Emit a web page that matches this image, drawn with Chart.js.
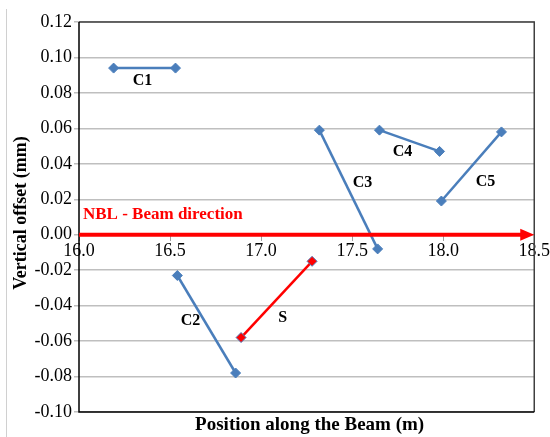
<!DOCTYPE html>
<html>
<head>
<meta charset="utf-8">
<script src="https://cdn.jsdelivr.net/npm/chart.js@4"></script>
<style>
    html, body { margin: 0; padding: 0; background: #fff; }
    #wrap { width: 550px; height: 437px; position: relative; }
</style>
</head>
<body>
<div id="wrap"><canvas id="grafica" width="550" height="437"></canvas></div>
<script>
// data
const c1X = [16.19, 16.53];
const c1Y = [0.094, 0.094];
const c2X = [16.54, 16.86];
const c2Y = [-0.023, -0.078];
const sX = [16.89, 17.28];
const sY = [-0.058, -0.015];
const c3X = [17.32, 17.64];
const c3Y = [0.059, -0.008];
const c4X = [17.65, 17.98];
const c4Y = [0.059, 0.047];
const c5X = [17.99, 18.32];
const c5Y = [0.019, 0.058];

const seriesNames = ['C1', 'C2', 'S', 'C3', 'C4', 'C5'];
const xTicks = [16.0, 16.5, 17.0, 17.5, 18.0, 18.5];
const yTicks = [-0.10, -0.08, -0.06, -0.04, -0.02, 0.00, 0.02, 0.04, 0.06, 0.08, 0.10, 0.12];

const azul = '#4a7ebb';
const rojo = '#ff0000';
const serif = '"Liberation Serif", "Times New Roman", serif';

function puntos(xs, ys) {
    return xs.map((x, i) => ({ x: x, y: ys[i] }));
}

function serie(nombre, xs, ys, color) {
    return {
        label: nombre,
        data: puntos(xs, ys),
        borderColor: color,
        backgroundColor: color,
        pointBackgroundColor: color,
        pointBorderColor: azul,
        pointBorderWidth: 1,
        pointStyle: 'rectRot',
        pointRadius: 5,
        borderWidth: 2.5,
        showLine: true
    };
}

// label offsets (pixels) from the middle of each segment
const offsets = {
    C1: [-2, 13], C2: [-16, -3], S: [6, 18],
    C3: [14, -7], C4: [-7, 11], C5: [14, 15]
};

const extras = {
    id: 'extras',
    beforeDraw(chart) {
        const ctx = chart.ctx;
        ctx.save();
        ctx.strokeStyle = '#d0d0d0';
        ctx.lineWidth = 1;
        ctx.beginPath();
        ctx.moveTo(6.5, 9);
        ctx.lineTo(6.5, 437);
        ctx.stroke();
        ctx.restore();
    },
    afterDatasetsDraw(chart) {
        const ctx = chart.ctx;
        const a = chart.chartArea;
        const xs = chart.scales.x;
        const ys = chart.scales.y;
        ctx.save();

        // frame
        ctx.lineWidth = 1.5;
        ctx.strokeStyle = '#404040';
        ctx.beginPath();
        ctx.moveTo(a.left, a.top);
        ctx.lineTo(a.right, a.top);
        ctx.lineTo(a.right, a.bottom);
        ctx.stroke();
        ctx.strokeStyle = '#000';
        ctx.beginPath();
        ctx.moveTo(a.right, a.bottom);
        ctx.lineTo(a.left, a.bottom);
        ctx.lineTo(a.left, a.top);
        ctx.stroke();

        // NBL arrow
        const y0 = ys.getPixelForValue(0);
        ctx.strokeStyle = rojo;
        ctx.fillStyle = rojo;
        ctx.lineWidth = 4;
        ctx.beginPath();
        ctx.moveTo(a.left, y0);
        ctx.lineTo(a.right - 10, y0);
        ctx.stroke();
        ctx.beginPath();
        ctx.moveTo(a.right, y0);
        ctx.lineTo(a.right - 14, y0 - 6);
        ctx.lineTo(a.right - 14, y0 + 6);
        ctx.closePath();
        ctx.fill();

        ctx.font = 'bold 17px ' + serif;
        ctx.textAlign = 'left';
        ctx.textBaseline = 'middle';
        ctx.fillText('NBL - Beam direction', a.left + 4, y0 - 20);

        // series labels
        ctx.fillStyle = '#000';
        ctx.font = 'bold 16px ' + serif;
        ctx.textAlign = 'center';
        chart.data.datasets.forEach(ds => {
            const p = ds.data;
            const mx = (xs.getPixelForValue(p[0].x) + xs.getPixelForValue(p[1].x)) / 2;
            const my = (ys.getPixelForValue(p[0].y) + ys.getPixelForValue(p[1].y)) / 2;
            const o = offsets[ds.label];
            ctx.fillText(ds.label, mx + o[0], my + o[1]);
        });

        // axis titles
        ctx.font = 'bold 19px ' + serif;
        ctx.fillText('Position along the Beam (m)', (a.left + a.right) / 2 + 3, 425);
        ctx.font = 'bold 18px ' + serif;
        ctx.translate(21, 213);
        ctx.rotate(-Math.PI / 2);
        ctx.fillText('Vertical offset (mm)', 0, 0);
        ctx.restore();
    }
};

const ctx = document.getElementById('grafica').getContext('2d');
new Chart(ctx, {
    type: 'scatter',
    data: {
        datasets: [
            serie('C1', c1X, c1Y, azul),
            serie('C2', c2X, c2Y, azul),
            serie('S', sX, sY, rojo),
            serie('C3', c3X, c3Y, azul),
            serie('C4', c4X, c4Y, azul),
            serie('C5', c5X, c5Y, azul)
        ]
    },
    options: {
        responsive: false,
        animation: false,
        layout: { padding: { top: 22, right: 14, bottom: 25, left: 0 } },
        plugins: {
            legend: { display: false },
            tooltip: { enabled: false }
        },
        scales: {
            x: {
                type: 'linear',
                position: { y: 0 },
                min: 16,
                max: 18.5,
                afterBuildTicks: axis => { axis.ticks = xTicks.map(v => ({ value: v })); },
                ticks: {
                    callback: v => Number(v).toFixed(1),
                    font: { family: serif, size: 18 },
                    color: '#000',
                    padding: 0,
                    maxRotation: 0
                },
                grid: { drawOnChartArea: false, tickLength: 6, color: '#a0a0a0' },
                border: { display: false }
            },
            y: {
                min: -0.1,
                max: 0.12,
                afterBuildTicks: axis => { axis.ticks = yTicks.map(v => ({ value: v })); },
                afterFit: axis => { axis.width = 79; },
                ticks: {
                    callback: v => Number(v).toFixed(2),
                    font: { family: serif, size: 18 },
                    color: '#000',
                    padding: 2
                },
                grid: { color: '#bfbfbf', lineWidth: 1.5, tickLength: 5 },
                border: { display: false }
            }
        }
    },
    plugins: [extras]
});
</script>
</body>
</html>
